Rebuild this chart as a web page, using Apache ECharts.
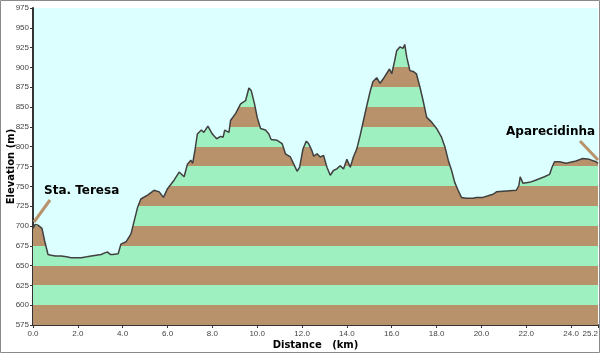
<!DOCTYPE html>
<html>
<head>
<meta charset="utf-8">
<script src="https://cdn.jsdelivr.net/npm/echarts@6/dist/echarts.min.js"></script>
<style>
html,body{margin:0;padding:0;background:#fff;}
#c{width:600px;height:353px;}
</style>
</head>
<body>
<div id="c"></div>
<script>
// distance (km)
const distance = [0.0,0.1,0.22,0.4,0.52,0.67,0.81,1.0,1.26,1.5,1.7,2.15,2.4,2.6,3.04,3.2,3.33,3.45,3.56,3.8,3.92,4.15,4.37,4.52,4.67,4.81,5.11,5.4,5.63,5.82,6.0,6.3,6.52,6.59,6.74,6.81,6.89,7.04,7.12,7.21,7.33,7.51,7.62,7.8,8.0,8.19,8.37,8.48,8.55,8.74,8.81,9.04,9.26,9.48,9.63,9.73,9.88,10.0,10.15,10.37,10.52,10.62,10.89,11.11,11.26,11.48,11.63,11.78,11.89,12.04,12.19,12.29,12.44,12.52,12.67,12.81,12.96,13.11,13.26,13.4,13.55,13.7,13.85,14.0,14.15,14.29,14.44,14.59,14.74,14.89,15.04,15.16,15.33,15.48,15.63,15.9,16.0,16.12,16.22,16.37,16.5,16.58,16.67,16.81,16.96,17.1,17.26,17.4,17.56,17.78,18.0,18.22,18.37,18.52,18.67,18.81,18.96,19.11,19.33,19.63,19.78,20.07,20.3,20.52,20.67,21.11,21.56,21.67,21.73,21.85,22.15,22.44,22.81,23.04,23.15,23.26,23.48,23.78,24.22,24.52,24.81,25.11,25.2];
// elevation (m)
const elevation = [697,702,701,697,681,664,663,662,662,661,660,660,661,662,664,666,667,664,664,665,677,680,690,707,724,734,739,745,743,736,747,758,768,766,762,762,778,783,779,793,816,821,818,826,816,810,813,812,821,818,833,842,854,858,874,871,854,837,823,821,816,809,808,804,791,787,778,769,774,797,807,804,795,788,791,787,789,774,764,770,772,776,772,784,774,787,797,814,833,852,870,882,887,880,886,898,892,907,921,926,924,929,913,896,895,892,875,858,837,831,823,812,800,783,770,755,745,736,735,735,736,736,738,740,743,744,745,751,762,754,755,758,762,765,774,781,781,779,782,785,784,781,779];
// axis ticks
const yTicks = [575,600,625,650,675,700,725,750,775,800,825,850,875,900,925,950,975];
const xTicks = [0,2,4,6,8,10,12,14,16,18,20,22,24,25.2];

const BROWN = '#B8926A', GREEN = '#9EF0C0';
const pieces = [];
for (let i = 0; i < yTicks.length - 1; i++) {
  pieces.push({gte: yTicks[i], lt: yTicks[i+1], color: i % 2 === 0 ? BROWN : GREEN});
}
const data = distance.map((d, i) => [d, elevation[i]]);

const chart = echarts.init(document.getElementById('c'), null, {renderer: 'canvas'});
chart.setOption({
  animation: false,
  backgroundColor: '#ffffff',
  grid: {left: 33, right: 2, top: 8, bottom: 28, containLabel: false, outerBoundsMode: 'none', show: true, backgroundColor: '#DCFFFF', borderWidth: 0},
  xAxis: {
    type: 'value', min: 0, max: 25.2, interval: 2,
    name: 'Distance   (km)', nameLocation: 'middle', nameGap: 15, nameMoveOverlap: false,
    nameTextStyle: {fontFamily: 'DejaVu Sans', fontWeight: 'bold', fontSize: 10, color: '#000'},
    axisLine: {show: true, lineStyle: {color: '#333', width: 2}},
    axisTick: {show: true, length: 3, lineStyle: {color: '#333'}},
    minorTick: {show: false},
    axisLabel: {fontFamily: 'Liberation Sans', fontSize: 8, color: '#444', margin: 5, alignMaxLabel: 'right', formatter: v => v.toFixed(1)},
    splitLine: {show: false}
  },
  yAxis: {
    type: 'value', min: 575, max: 975, interval: 25,
    name: 'Elevation (m)', nameLocation: 'middle', nameGap: 17, nameRotate: 90, nameMoveOverlap: false,
    nameTextStyle: {fontFamily: 'DejaVu Sans', fontWeight: 'bold', fontSize: 10, color: '#000'},
    axisLine: {show: true, lineStyle: {color: '#333', width: 2}},
    axisTick: {show: true, length: 3, lineStyle: {color: '#333'}},
    axisLabel: {fontFamily: 'Liberation Sans', fontSize: 8, color: '#444', margin: 4},
    splitLine: {show: false}
  },
  visualMap: {show: false, type: 'piecewise', dimension: 1, seriesIndex: 0, pieces: pieces},
  series: [
    {type: 'line', data: data, symbol: 'none', lineStyle: {width: 0}, areaStyle: {opacity: 1}, z: 2},
    {type: 'line', data: data, symbol: 'none', lineStyle: {width: 1.5, color: '#404040'}, z: 3}
  ],
  graphic: [
    {type: 'rect', shape: {x: 0.5, y: 0.5, width: 599, height: 352}, style: {fill: 'none', stroke: '#8a8a8a', lineWidth: 1}, z: 100},
    {type: 'line', shape: {x1: 34, y1: 222, x2: 50, y2: 200}, style: {stroke: BROWN, lineWidth: 3}, z: 50},
    {type: 'text', left: 44, top: 185, style: {text: 'Sta. Teresa', fontFamily: 'DejaVu Sans', fontWeight: 'bold', fontSize: 12, fill: '#000'}, z: 50},
    {type: 'line', shape: {x1: 580, y1: 141, x2: 598, y2: 160}, style: {stroke: BROWN, lineWidth: 3}, z: 50},
    {type: 'text', left: 506, top: 126, style: {text: 'Aparecidinha', fontFamily: 'DejaVu Sans', fontWeight: 'bold', fontSize: 12, fill: '#000'}, z: 50}
  ]
});
</script>
</body>
</html>
